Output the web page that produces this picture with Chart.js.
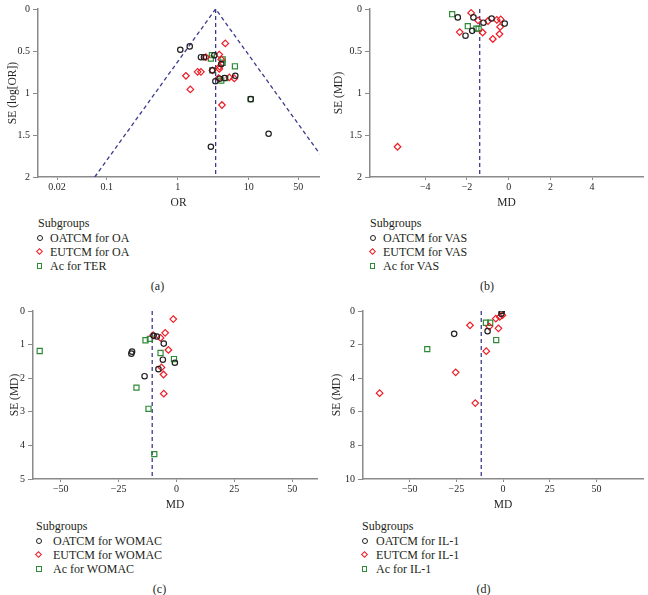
<!DOCTYPE html>
<html lang="en">
<head>
<meta charset="UTF-8">
<title>Funnel plots by subgroup</title>
<script src="https://cdn.jsdelivr.net/npm/chart.js"></script>
<style>
    body { margin: 0; background: #fff; font-family: "Liberation Serif", serif; color: #231f20; }
    #wrap { position: relative; width: 648px; height: 595px; }
    .panel { position: absolute; width: 324px; height: 212px; }
    .txt { position: absolute; font-size: 12px; line-height: 14px; white-space: nowrap; }
    .mk { position: absolute; box-sizing: border-box; }
    .mk.c { width: 6px; height: 6px; border: 1.2px solid #231f20; border-radius: 50%; }
    .mk.d { width: 5px; height: 5px; border: 1.2px solid #ee1c25; transform: rotate(45deg); }
    .mk.s { width: 5.5px; height: 5.5px; border: 1.2px solid #2e8b35; }
    .cap { position: absolute; font-size: 12px; line-height: 14px; transform: translateX(-50%); }
</style>
</head>
<body>
<div id="wrap">
    <div class="panel" style="left:0;top:0"><canvas id="chA"></canvas></div>
    <div class="panel" style="left:324px;top:0"><canvas id="chB"></canvas></div>
    <div class="panel" style="left:0;top:302px"><canvas id="chC"></canvas></div>
    <div class="panel" style="left:324px;top:302px"><canvas id="chD"></canvas></div>
    <div id="legends"></div>
</div>
<script>
// (a) OR vs SE(log OR)
var oaOatcm = [[1.09,0.485],[1.48,0.445],[2.13,0.574],[2.35,0.574],[3.29,0.55],[4.12,0.655],[3.08,0.73],[3.40,0.86],[3.9,0.83],[4.59,0.822],[6.49,0.795],[10.7,1.073],[19.1,1.485],[2.94,1.64]];
var oaEutcm = [[4.69,0.41],[3.86,0.543],[2.50,0.574],[4.12,0.60],[3.91,0.686],[3.86,0.713],[1.31,0.795],[1.91,0.748],[2.13,0.748],[3.08,0.73],[3.78,0.822],[5.35,0.814],[6.28,0.826],[1.51,0.957],[4.21,1.143]];
var terAc = [[3.04,0.55],[2.94,0.59],[4.30,0.60],[4.30,0.64],[6.41,0.682],[3.08,0.73],[4.12,0.853],[4.69,0.822],[10.7,1.073]];
var pooledA = 3.43;
var funnelA = [[0.068,2],[3.43,0],[172,2]];

// (b) VAS
var vasOatcm = [[-2.44,0.10],[-1.69,0.10],[-1.21,0.163],[-0.82,0.113],[-0.19,0.174],[-1.75,0.26],[-2.07,0.318]];
var vasEutcm = [[-1.80,0.047],[-1.47,0.136],[-0.99,0.143],[-0.57,0.13],[-0.38,0.124],[-0.41,0.213],[-2.35,0.275],[-1.25,0.28],[-0.76,0.357],[-0.44,0.298],[-5.33,1.64]];
var vasAc = [[-2.71,0.062],[-1.96,0.205],[-1.55,0.233],[-1.44,0.233]];
var pooledB = -1.39;

// (c) WOMAC
var womacOatcm = [[-9.9,0.74],[-8.5,0.76],[-5.5,0.97],[-19.2,1.21],[-19.5,1.27],[-5.9,1.45],[-0.7,1.54],[-7.8,1.73],[-13.8,1.94]];
var womacEutcm = [[-1.4,0.24],[-4.9,0.65],[-10.1,0.72],[-6.9,0.80],[-3.5,1.16],[-6.5,1.68],[-5.6,1.89],[-5.5,2.46]];
var womacAc = [[-59.1,1.19],[-13.4,0.87],[-11.5,0.83],[-6.9,1.25],[-1.1,1.43],[-17.3,2.28],[-12.1,2.91],[-9.6,4.26]];
var pooledC = -10.5;

// (d) IL-1
var il1Oatcm = [[-0.7,0.0],[-0.9,0.16],[-8.3,1.2],[-26.2,1.36]];
var il1Eutcm = [[-0.35,0.25],[-1.8,0.35],[-3.9,0.45],[-17.7,0.85],[-7.4,0.93],[-2.5,1.03],[-9.0,2.39],[-25.4,3.65],[-66.1,4.89],[-14.9,5.48]];
var il1Ac = [[-9.2,0.70],[-6.9,0.70],[-3.7,1.73],[-40.6,2.27]];
var pooledD = -11.7;

var ticksA = [0.02, 0.1, 1, 10, 50];
var ticksB = [-4, -2, 0, 2, 4];
var ticksCD = [-50, -25, 0, 25, 50];

Chart.defaults.font.family = '"Liberation Serif", serif';
Chart.defaults.color = '#231f20';

function pts(arr) {
    return arr.map(function(p) { return {x: p[0], y: p[1]}; });
}
function minus(v) {
    return String(v).replace('-', '\u2212');
}

function makeChart(id, o) {
    var sets = [
        {data: pts(o.black), pointStyle: 'circle', pointRadius: 2.7, borderColor: '#231f20'},
        {data: pts(o.red), pointStyle: 'rectRot', pointRadius: 3.3, borderColor: '#ee1c25'},
        {data: pts(o.green), pointStyle: 'rect', pointRadius: 3.6, borderColor: '#2e8b35'}
    ].map(function(d) {
        d.backgroundColor = 'rgba(0,0,0,0)';
        d.borderWidth = 1.2;
        d.pointHoverRadius = d.pointRadius;
        return d;
    });
    var dash = {showLine: true, pointRadius: 0, borderColor: '#3a3a8c', borderWidth: 1.3, borderDash: [4, 3], fill: false};
    sets.push(Object.assign({data: pts([[o.pooled, 0], [o.pooled, o.ymax]])}, dash));
    if (o.funnel) sets.push(Object.assign({data: pts(o.funnel)}, dash));

    new Chart(document.getElementById(id), {
        type: 'scatter',
        data: {datasets: sets},
        options: {
            responsive: false,
            animation: false,
            events: [],
            layout: {padding: {top: 5, right: o.right, left: 0, bottom: 0}},
            plugins: {legend: {display: false}, tooltip: {enabled: false}},
            scales: {
                x: {
                    type: o.log ? 'logarithmic' : 'linear',
                    min: o.xmin, max: o.xmax,
                    afterBuildTicks: function(s) { s.ticks = o.xticks.map(function(v) { return {value: v}; }); },
                    afterFit: function(s) { s.height = 35; },
                    ticks: {font: {size: 10}, padding: 1, maxRotation: 0, autoSkip: false,
                        callback: function(v) { return minus(v); }},
                    grid: {drawOnChartArea: false, color: '#8a8a8a', tickLength: 3},
                    border: {color: '#8a8a8a', width: 1.5},
                    title: {display: true, text: o.xtitle, font: {size: 11.5}, padding: {top: 0, bottom: 2}}
                },
                y: {
                    reverse: true,
                    min: 0, max: o.ymax,
                    ticks: {stepSize: o.ystep, font: {size: 10}, padding: 3,
                        callback: function(v) { return String(Math.round(v * 100) / 100); }},
                    afterFit: function(s) { s.width = o.left; },
                    grid: {drawOnChartArea: false, color: '#8a8a8a', tickLength: 5},
                    border: {color: '#8a8a8a', width: 1.5},
                    title: {display: true, text: o.ytitle, font: {size: 11.5}, padding: {top: o.ytpad, bottom: 0}}
                }
            }
        }
    });
}

function sizeCanvas(id) {
    var c = document.getElementById(id);
    c.width = 324; c.height = 212;
    c.style.width = '324px'; c.style.height = '212px';
}
['chA', 'chB', 'chC', 'chD'].forEach(sizeCanvas);

makeChart('chA', {black: oaOatcm, red: oaEutcm, green: terAc, pooled: pooledA, funnel: funnelA,
    log: true, xmin: 0.0108, xmax: 98.6, xticks: ticksA, ymax: 2, ystep: 0.5,
    left: 38, right: 4, ytpad: 6, xtitle: 'OR', ytitle: 'SE (log[OR])'});
makeChart('chB', {black: vasOatcm, red: vasEutcm, green: vasAc, pooled: pooledB,
    xmin: -6.65, xmax: 6.45, xticks: ticksB, ymax: 2, ystep: 0.5,
    left: 46, right: 1, ytpad: 8, xtitle: 'MD', ytitle: 'SE (MD)'});
makeChart('chC', {black: womacOatcm, red: womacEutcm, green: womacAc, pooled: pooledC,
    xmin: -62, xmax: 60.7, xticks: ticksCD, ymax: 5, ystep: 1,
    left: 33, right: 7, ytpad: 8, xtitle: 'MD', ytitle: 'SE (MD)'});
makeChart('chD', {black: il1Oatcm, red: il1Eutcm, green: il1Ac, pooled: pooledD,
    xmin: -75, xmax: 75, xticks: ticksCD, ymax: 10, ystep: 2,
    left: 39, right: 3, ytpad: 6, xtitle: 'MD', ytitle: 'SE (MD)'});

// legends and captions
var legends = [
    {x: 38, mx: 39.5, tx: 50, y: 216, cx: 157.5, cy: 279, items: ['OATCM for OA', 'EUTCM for OA', 'Ac for TER'], cap: '(a)'},
    {x: 370, mx: 372.7, tx: 383, y: 216, cx: 487, cy: 279, items: ['OATCM for VAS', 'EUTCM for VAS', 'Ac for VAS'], cap: '(b)'},
    {x: 36, mx: 39, tx: 53, y: 519, cx: 159.5, cy: 582, items: ['OATCM for WOMAC', 'EUTCM for WOMAC', 'Ac for WOMAC'], cap: '(c)'},
    {x: 362, mx: 364.7, tx: 376, y: 519, cx: 483.5, cy: 582, items: ['OATCM for IL-1', 'EUTCM for IL-1', 'Ac for IL-1'], cap: '(d)'}
];
var kinds = ['c', 'd', 's'];
var html = '';
legends.forEach(function(l) {
    html += '<div class="txt" style="left:' + l.x + 'px;top:' + l.y + 'px">Subgroups</div>';
    l.items.forEach(function(t, i) {
        var top = l.y + 15 + i * 14;
        html += '<div class="mk ' + kinds[i] + '" style="left:' + (l.mx - 2.8) + 'px;top:' + (top + 4.2) + 'px"></div>';
        html += '<div class="txt" style="left:' + l.tx + 'px;top:' + top + 'px">' + t + '</div>';
    });
    html += '<div class="cap" style="left:' + l.cx + 'px;top:' + l.cy + 'px">' + l.cap + '</div>';
});
document.getElementById('legends').innerHTML = html;
</script>
</body>
</html>
